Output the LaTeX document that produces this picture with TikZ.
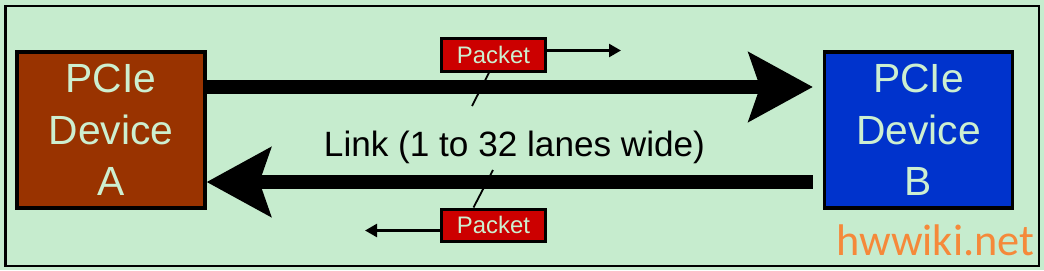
\documentclass[tikz,border=0pt]{standalone}
\usepackage{fontspec}
\setmainfont{Liberation Sans}
\newfontfamily\wikifont{Carlito}
\usetikzlibrary{
    positioning,
    arrows.meta
}
\definecolor{Fundo}{HTML}{C6ECCE}
\definecolor{TextoClaro}{HTML}{CDEFD0}
\definecolor{Marrom}{HTML}{993300}
\definecolor{Azul}{HTML}{0033CC}
\definecolor{Vermelho}{HTML}{CC0000}
\definecolor{Laranja}{HTML}{F5893A}

\begin{document}
\begin{tikzpicture}[
        x=0.025cm, y=-0.025cm,
        device/.style={
            draw=black,
            line width=0.09cm,
            minimum width=4.7cm,
            minimum height=3.91cm,
            inner sep=0pt,
            align=center,
            text=TextoClaro,
            font=\fontsize{29}{36.5}\selectfont
        },
        packet/.style={
            draw=black,
            fill=Vermelho,
            line width=0.075cm,
            minimum width=2.6cm,
            minimum height=0.8cm,
            inner sep=0pt,
            text=TextoClaro,
            font=\fontsize{17}{20}\selectfont
        },
        lane/.style={
            line width=0.33cm,
            -{Stealth[length=1.625cm,width=1.78cm,inset=0.31cm,line width=0pt]}
        },
        pktarrow/.style={
            line width=0.09cm,
            -{Triangle[length=0.3cm,width=0.32cm]}
        }
    ]

    % fundo e moldura
    \fill[Fundo] (0,0) rectangle (1044,270);
    \draw[line width=0.05cm] (5.5,5.5) rectangle (1038.5,265.5);

    % dispositivos
    \node[device, fill=Marrom] (devA) at (111,130) {PCIe\\Device\\A};
    \node[device, fill=Azul] (devB) at (918.5,130) {PCIe\\Device\\B};

    % enlace
    \draw[lane, shorten >=0.25cm]
        ([yshift=1.075cm]devA.east) -- ([yshift=1.075cm]devB.west);
    \draw[lane, shorten <=0.25cm]
        ([yshift=-1.3cm]devB.west) -- ([yshift=-1.3cm]devA.east);
    \node[font=\fontsize{25}{30}\selectfont] (link) at (514.5,147)
        {Link (1 to 32 lanes wide)};

    % pacotes
    \node[packet] (pktTop) at (493.5,55) {Packet};
    \node[packet] (pktBot) at (493.5,225) {Packet};
    \coordinate (topEnd) at (621,50.5);
    \coordinate (botEnd) at (365,230.5);
    \coordinate (tickTop) at (472,106);
    \coordinate (tickBot) at (493,170);
    \draw[pktarrow] (pktTop.east |- topEnd) -- (topEnd);
    \draw[pktarrow] (pktBot.west |- botEnd) -- (botEnd);
    \draw[line width=0.045cm] ([xshift=-0.11cm]pktTop.south) -- (tickTop);
    \draw[line width=0.045cm] ([xshift=-0.5cm]pktBot.north) -- (tickBot);

    \node[anchor=base west, text=Laranja, font=\wikifont\fontsize{31.5}{36}\selectfont,
        inner sep=0pt] (wiki) at (836,255) {hwwiki.net};

\end{tikzpicture}
\end{document}
